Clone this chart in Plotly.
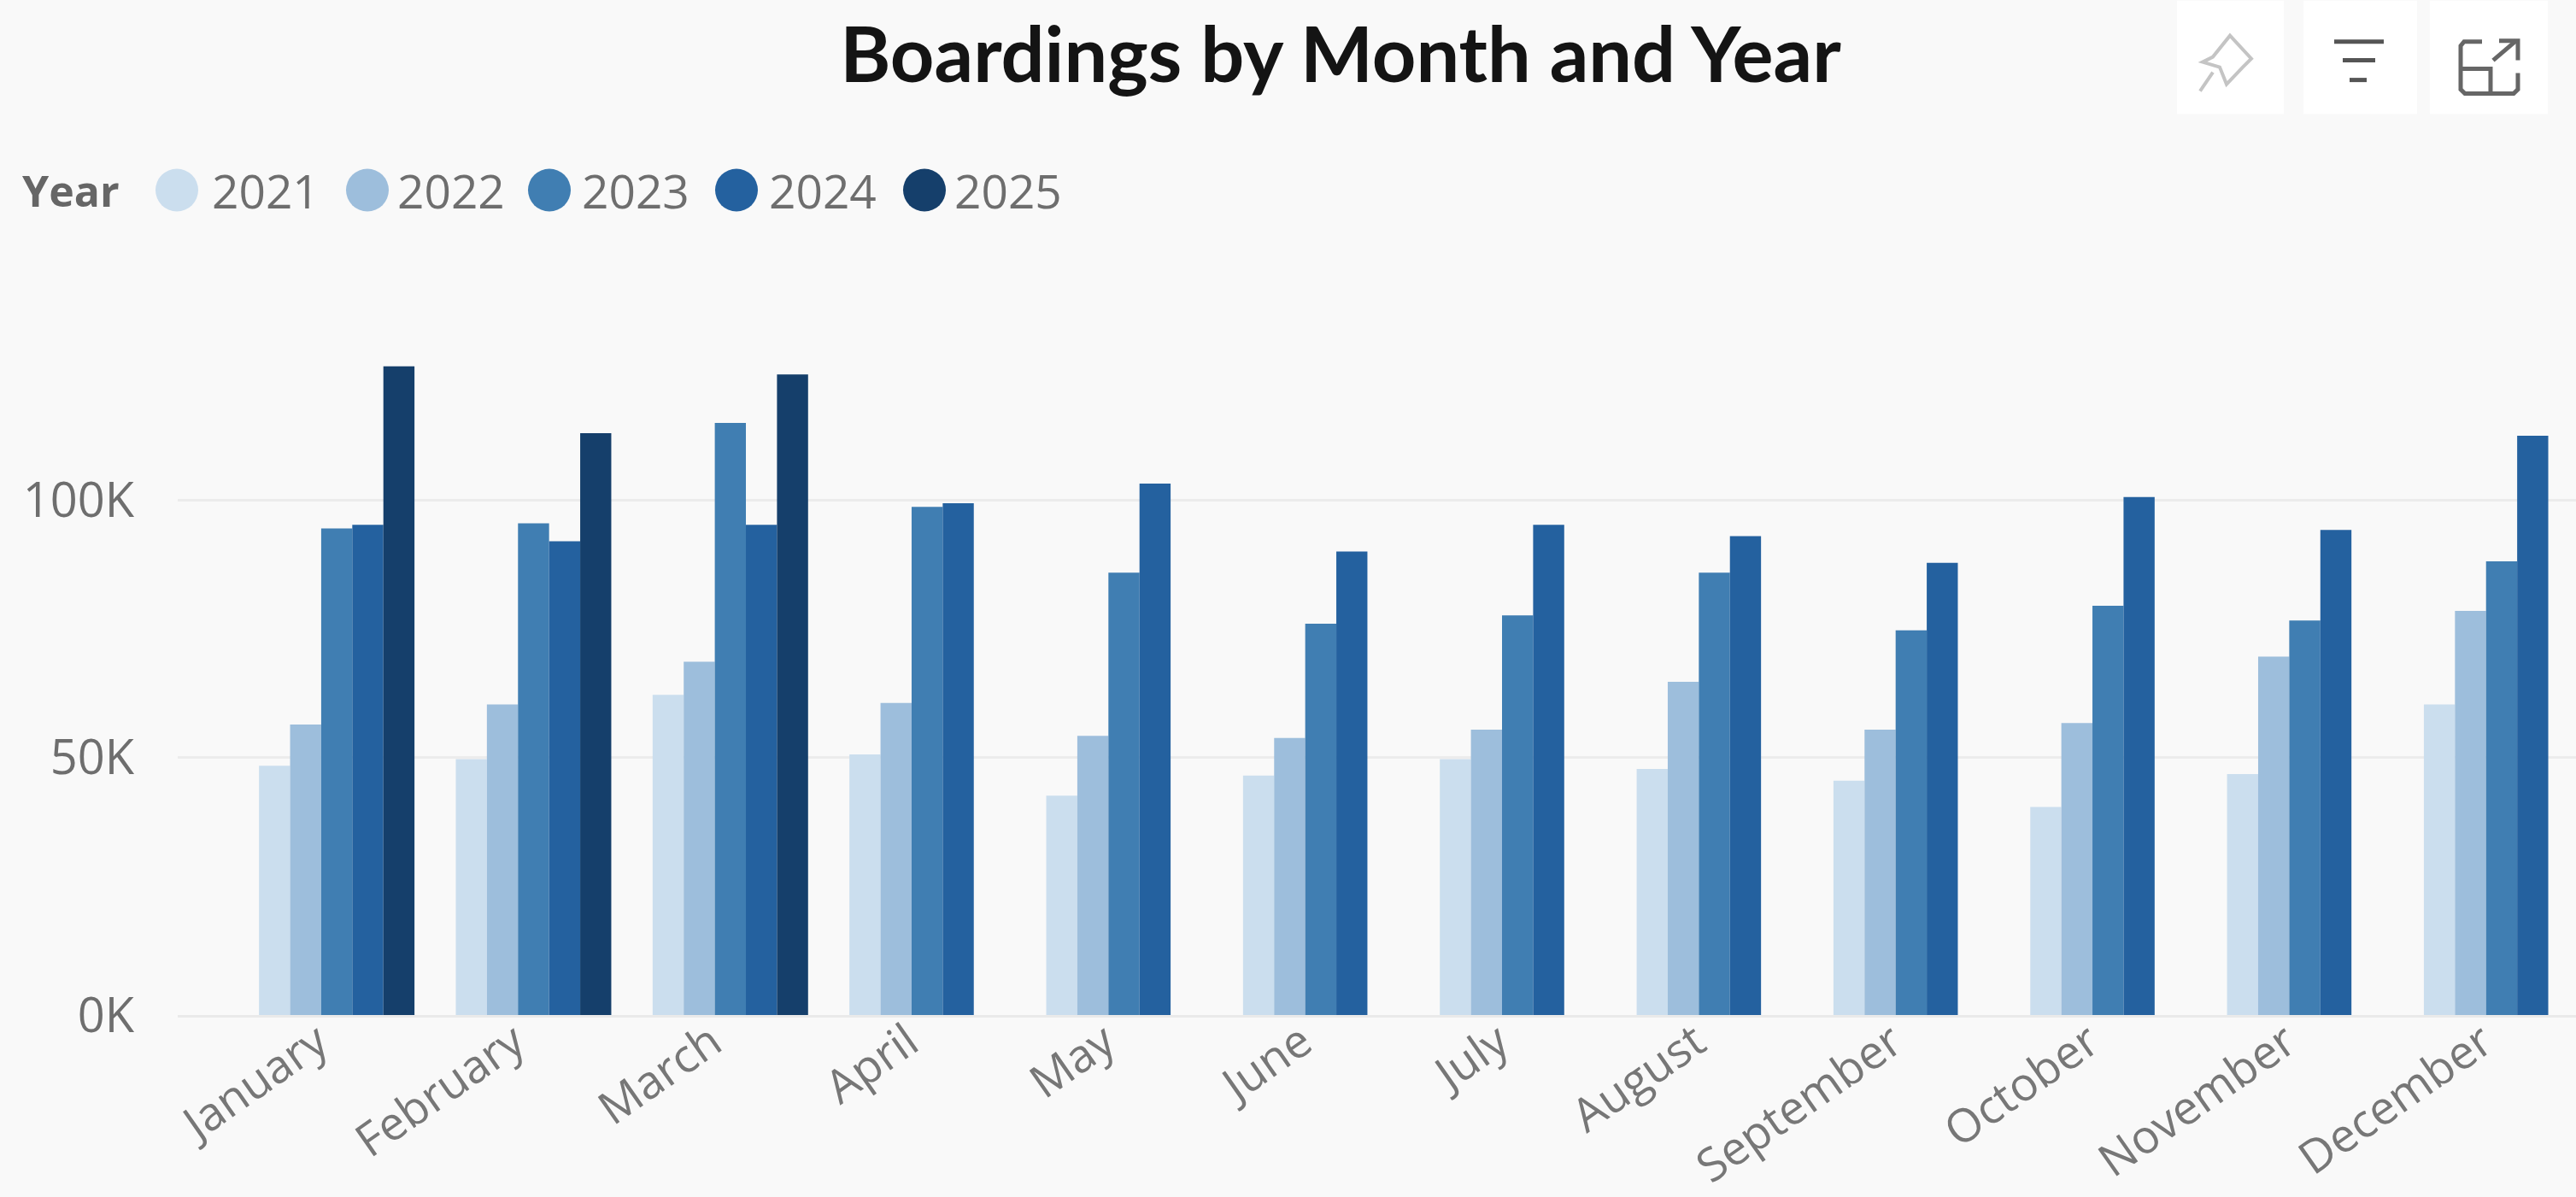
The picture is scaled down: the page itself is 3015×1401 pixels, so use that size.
import plotly.graph_objects as go

W, H = 3015, 1401
PLOT_L, PLOT_T, PLOT_B = 208, 283.5, 1188

months = ["January", "February", "March", "April", "May", "June", "July",
          "August", "September", "October", "November", "December"]
years = ["2021", "2022", "2023", "2024", "2025"]
colors = ["#CBDEEE", "#9DBEDC", "#407EB2", "#24619F", "#153F6B"]

boardings_2021 = [48400, 49700, 62200, 50600, 42600, 46500, 49700, 47800, 45500, 40400, 46800, 60300]
boardings_2022 = [56400, 60300, 68600, 60600, 54200, 53800, 55400, 64700, 55400, 56700, 69600, 78500]
boardings_2023 = [94500, 95500, 115000, 98700, 85900, 76000, 77600, 85900, 74700, 79500, 76600, 88100]
boardings_2024 = [95200, 92000, 95200, 99400, 103200, 90000, 95200, 93000, 87800, 100600, 94200, 112500]
boardings_2025 = [126000, 113000, 124400]

y_ticks = [0, 50000, 100000]
y_tick_labels = ["0K", "50K", "100K"]

series = [boardings_2021, boardings_2022, boardings_2023, boardings_2024, boardings_2025]

legend_dot_x = [207, 430, 643, 862, 1082]
legend_text_x = [246, 463, 679, 898, 1115]
LEGEND_Y = 222
DOT = 50


def px(x):
    return (x - PLOT_L) / (W - PLOT_L)


def py(y):
    return (PLOT_B - y) / (PLOT_B - PLOT_T)


fig = go.Figure()
for year, color, values in zip(years, colors, series):
    fig.add_trace(go.Bar(name=year, x=months[:len(values)], y=values,
                         marker=dict(color=color, line_width=0), showlegend=False))

shapes = []

# Toolbar buttons above the chart
for x0, x1 in [(2548, 2673), (2696, 2829), (2844, 2982)]:
    shapes.append(dict(type="rect", xref="paper", yref="paper", x0=px(x0), x1=px(x1),
                       y0=py(0), y1=py(133), fillcolor="#FFFFFF", line_width=0, layer="below"))


def path(points, close=False):
    body = " ".join(("M" if i == 0 else "L") + f"{px(a):.5f},{py(b):.5f}"
                    for i, (a, b) in enumerate(points))
    return body + (" Z" if close else "")


def stroke(points, color, width=5, close=False):
    shapes.append(dict(type="path", xref="paper", yref="paper", path=path(points, close),
                       line=dict(color=color, width=width)))


# Pin
stroke([(2610, 41), (2635, 68), (2625, 78), (2606, 98), (2598, 78), (2578, 72), (2590, 66)],
       "#C4C4C4", 4, close=True)
stroke([(2590, 84), (2575, 106)], "#C4C4C4", 4)
# Filter
stroke([(2732, 48), (2790, 48)], "#555555")
stroke([(2742, 70), (2780, 70)], "#555555")
stroke([(2750, 93), (2770, 93)], "#555555")
# Expand
stroke([(2905, 48), (2884, 48), (2880, 53), (2880, 104), (2885, 109), (2942, 109),
        (2947, 104), (2947, 85)], "#666666")
stroke([(2880, 80), (2915, 80), (2915, 109)], "#666666")
stroke([(2918, 70), (2945, 47)], "#666666")
stroke([(2925, 47), (2947, 47), (2947, 70)], "#666666")

# Legend row with round keys, larger than a Plotly legend symbol can be
annotations = [dict(text="<b>Year</b>", xref="paper", yref="paper", x=px(24), y=py(LEGEND_Y),
                    xanchor="left", yanchor="middle", showarrow=False,
                    font=dict(family="Open Sans", size=50, color="#666666"))]
for year, color, dot_x, text_x in zip(years, colors, legend_dot_x, legend_text_x):
    shapes.append(dict(type="circle", xref="paper", yref="paper",
                       x0=px(dot_x - DOT / 2), x1=px(dot_x + DOT / 2),
                       y0=py(LEGEND_Y - DOT / 2), y1=py(LEGEND_Y + DOT / 2),
                       fillcolor=color, line_width=0))
    annotations.append(dict(text=year, xref="paper", yref="paper", x=px(text_x), y=py(LEGEND_Y),
                            xanchor="left", yanchor="middle", showarrow=False,
                            font=dict(family="Open Sans", size=55, color="#6E6E6E")))

fig.update_layout(
    width=W, height=H, autosize=False,
    margin=dict(l=PLOT_L, r=0, t=PLOT_T, b=H - PLOT_B, pad=0, autoexpand=False),
    paper_bgcolor="#F9F9F9", plot_bgcolor="#F9F9F9",
    barmode="group", bargap=0.21, bargroupgap=0,
    showlegend=False,
    font=dict(family="Open Sans", color="#666666"),
    title=dict(text="<b>Boardings by Month and Year</b>", x=1569 / W, xanchor="center",
               y=1 - 64 / H, yanchor="middle", automargin=False,
               font=dict(family="Lato", size=90, color="#141414")),
    shapes=shapes,
    annotations=annotations,
    xaxis=dict(range=[-0.808, 11.378], categoryorder="array", categoryarray=months,
               tickangle=-35, showgrid=False, ticks="", showline=True, automargin=False,
               linecolor="#EAEAEA", linewidth=3, zeroline=False, ticklabelshift=-22,
               ticklabelstandoff=-24,
               tickfont=dict(family="Open Sans", size=54, color="#777777")),
    yaxis=dict(range=[0, 150000], tickvals=y_ticks, ticktext=y_tick_labels, automargin=False,
               showgrid=True, gridcolor="#ECECEC", gridwidth=3, zeroline=False,
               showline=False, ticks="", ticklabelstandoff=50,
               tickfont=dict(family="Open Sans", size=56, color="#6E6E6E")),
)

fig.write_html("out.html")
